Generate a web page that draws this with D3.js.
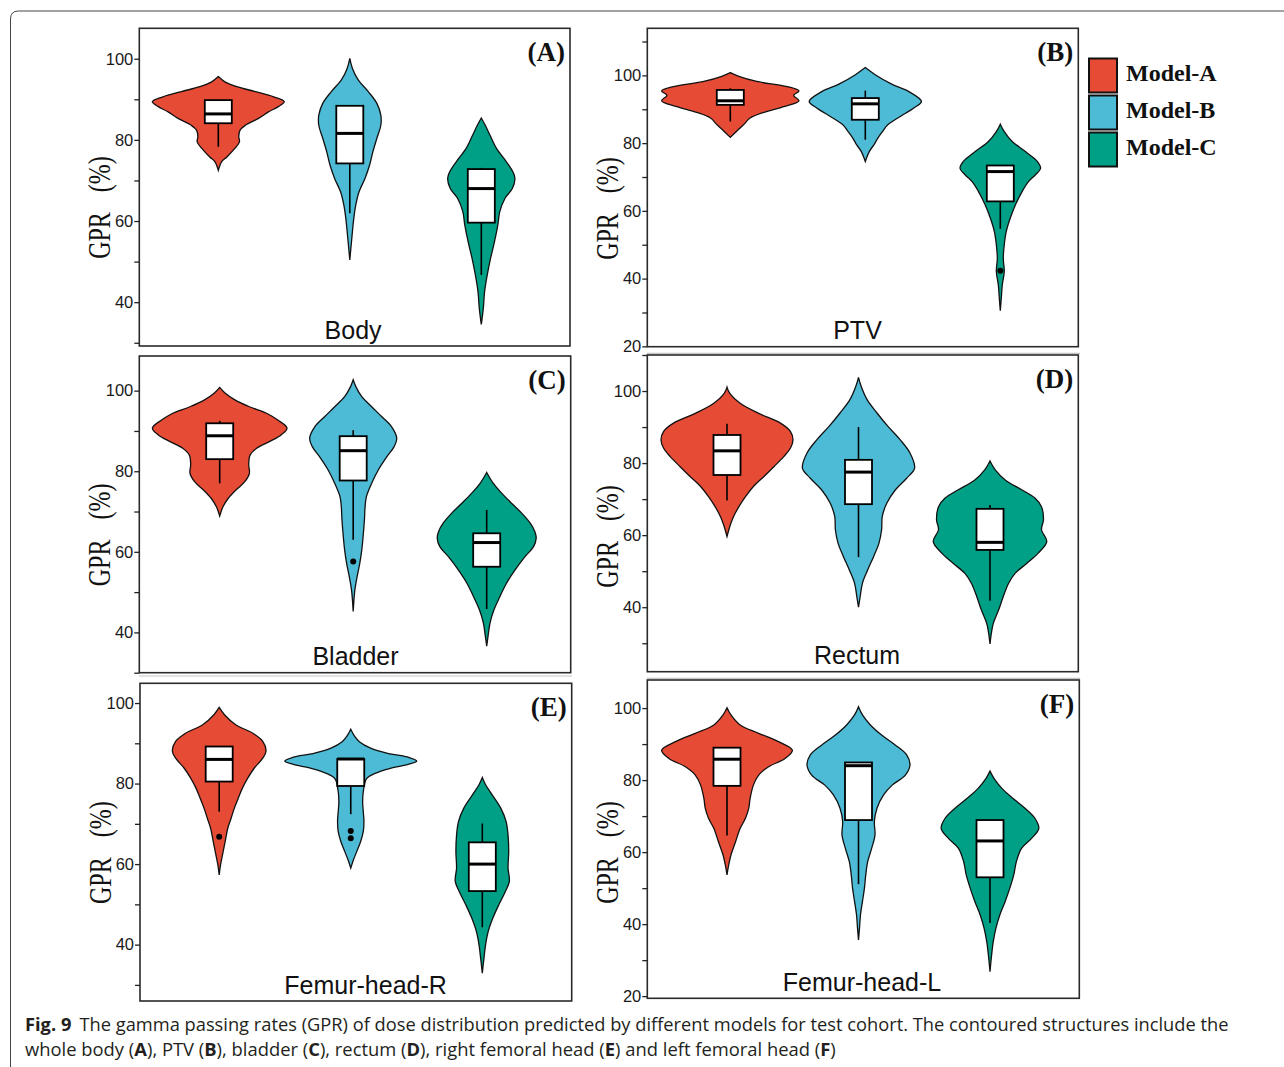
<!DOCTYPE html>
<html><head><meta charset="utf-8">
<script src="https://cdn.jsdelivr.net/npm/d3@7"></script>
<style>body{margin:0;background:#fff}svg{display:block}</style>
</head><body><svg id="chart" width="1284" height="1067"></svg>
<script>
// ---------------- data ----------------
const models = ["Model-A", "Model-B", "Model-C"];
const modelColors = ["#E64B35", "#4DBBD5", "#00A087"];
const structures = ["Body", "PTV", "Bladder", "Rectum", "Femur-head-R", "Femur-head-L"];
const panelTags = ["(A)", "(B)", "(C)", "(D)", "(E)", "(F)"];
const yDomains = [[29.2, 107.5], [19.9, 113.9], [30.0, 108.6], [22.1, 110.0], [26.0, 104.9], [19.4, 107.8]];
const yTickValues = [20, 30, 40, 50, 60, 70, 80, 90, 100, 110];
const yTickLabels = [20, 40, 60, 80, 100];

// box stats per model: [lower whisker, Q1, median, Q3, upper whisker]
const boxBody    = [[78.3, 84.1, 86.4, 89.8, 89.8], [61.9, 74.2, 81.6, 88.4, 88.4], [46.7, 59.6, 68.0, 72.8, 73.1]];
const boxPTV     = [[86.4, 91.3, 92.5, 95.7, 96.2], [81.0, 86.9, 91.6, 93.3, 95.5], [54.7, 62.8, 71.6, 73.4, 73.4]];
const boxBladder = [[77.0, 83.0, 88.8, 91.9, 92.5], [63.0, 77.7, 85.1, 88.7, 90.2], [45.8, 56.3, 62.3, 64.6, 70.4]];
const boxRectum  = [[69.6, 76.7, 83.4, 87.8, 90.9], [53.9, 68.6, 77.5, 80.9, 90.0], [41.8, 55.9, 58.0, 67.3, 68.4]];
const boxFemurR  = [[73.0, 80.5, 86.0, 89.2, 89.2], [72.4, 79.4, 86.1, 86.1, 86.1], [44.3, 53.3, 60.0, 65.4, 70.1]];
const boxFemurL  = [[64.6, 78.4, 85.8, 89.0, 89.0], [51.1, 68.9, 84.0, 84.9, 84.9], [40.3, 53.0, 63.1, 68.9, 68.9]];

const outBody    = [[], [], []];
const outPTV     = [[], [], [42.3]];
const outBladder = [[], [57.6], []];
const outRectum  = [[], [], []];
const outFemurR  = [[66.8], [68.2, 66.4], []];
const outFemurL  = [[], [], []];

// violin outlines: [GPR value, relative half-width]
const violinBody = [
  [[95.6,0],[94.3,.10],[93.1,.28],[91.9,.56],[90.6,.84],[89.4,1.0],[88.2,.91],[86.9,.76],[85.3,.61],[83.6,.41],[82.4,.33],[80.8,.31],[79.5,.32],[77.9,.25],[75.8,.13],[74.6,.05],[72.5,0]],
  [[100.1,0],[97.6,.04],[94.7,.13],[91.9,.28],[89.0,.41],[86.1,.47],[83.6,.47],[80.4,.41],[77.1,.35],[73.8,.30],[70.5,.23],[67.2,.14],[63.9,.09],[60.6,.06],[55.7,.03],[50.4,0]],
  [[85.4,0],[83.6,.06],[81.2,.13],[77.9,.23],[74.6,.38],[72.1,.48],[70.5,.51],[68.0,.47],[65.6,.36],[62.3,.28],[59.0,.25],[54.9,.20],[50.8,.14],[46.7,.09],[42.6,.05],[38.4,.03],[34.5,0]]
];
const violinPTV = [
  [[100.8,0],[99.7,.13],[98.2,.40],[96.7,.86],[95.4,1.04],[94.1,.96],[92.5,1.04],[90.8,.81],[89.1,.51],[87.4,.30],[85.4,.20],[83.6,.10],[81.7,0]],
  [[102.3,0],[100.2,.15],[97.4,.40],[95.2,.66],[92.3,.85],[90.3,.73],[88.8,.61],[86.9,.45],[85.4,.34],[83.4,.26],[81.5,.19],[79.5,.13],[77.5,.06],[74.6,0]],
  [[85.6,0],[83.4,.06],[80.5,.18],[77.5,.38],[74.6,.56],[72.6,.61],[70.6,.53],[68.7,.43],[65.7,.33],[61.8,.23],[57.8,.15],[53.9,.09],[50.0,.06],[46.0,.045],[42.1,.06],[38.1,.03],[34.2,.015],[30.5,0]]
];
const violinBladder = [
  [[100.8,0],[99.4,.08],[97.7,.23],[96.0,.45],[94.4,.71],[92.7,.88],[90.7,1.02],[89.0,.93],[87.4,.76],[85.7,.56],[84.0,.46],[81.6,.44],[79.5,.45],[77.4,.38],[75.4,.25],[73.3,.13],[71.2,.05],[68.9,0]],
  [[102.7,0],[101.0,.04],[98.5,.13],[96.0,.28],[93.6,.43],[91.1,.58],[88.2,.66],[86.1,.62],[83.6,.51],[80.3,.38],[77.0,.28],[73.7,.20],[71.2,.18],[67.9,.17],[63.8,.15],[60.5,.13],[57.2,.10],[53.9,.06],[50.5,.025],[45.2,0]],
  [[79.7,0],[77.0,.10],[74.5,.23],[72.0,.38],[69.6,.53],[67.1,.66],[65.0,.73],[63.4,.75],[61.3,.71],[58.8,.58],[55.5,.43],[52.2,.30],[48.9,.20],[45.6,.11],[42.3,.05],[39.0,.02],[36.6,0]]
];
const violinRectum = [
  [[101.1,0],[99.4,.04],[96.6,.20],[93.8,.48],[91.1,.81],[88.8,.96],[86.5,1.0],[84.1,.96],[81.8,.86],[79.0,.71],[76.3,.56],[73.5,.40],[70.7,.28],[67.9,.18],[65.2,.10],[62.8,.05],[59.6,0]],
  [[103.8,0],[101.3,.04],[97.6,.13],[93.9,.28],[90.1,.45],[86.5,.63],[82.8,.78],[78.6,.85],[75.8,.73],[72.6,.56],[68.9,.43],[65.2,.36],[61.5,.35],[57.8,.31],[54.1,.23],[50.4,.14],[46.7,.06],[42.9,.025],[40.0,0]],
  [[80.6,0],[78.1,.08],[75.3,.23],[72.6,.48],[70.3,.68],[67.9,.78],[64.2,.81],[61.5,.78],[58.2,.86],[55.0,.73],[52.2,.56],[49.4,.38],[46.6,.28],[42.9,.20],[39.2,.13],[35.5,.05],[32.7,.02],[29.8,0]]
];
const violinFemurR = [
  [[98.9,0],[97.1,.08],[94.6,.25],[92.5,.51],[90.5,.66],[88.1,.71],[86.3,.66],[83.8,.53],[81.3,.43],[78.8,.35],[76.4,.29],[73.9,.23],[71.4,.18],[68.9,.13],[65.6,.09],[62.3,.05],[59.8,.02],[57.3,0]],
  [[93.5,0],[91.7,.06],[90.4,.13],[88.8,.30],[87.5,.56],[86.5,.88],[85.6,1.0],[84.8,.88],[83.8,.60],[82.6,.38],[81.2,.24],[78.0,.19],[75.5,.18],[73.0,.19],[70.6,.20],[68.1,.19],[65.6,.15],[63.1,.09],[61.0,.04],[59.0,0]],
  [[81.5,0],[79.7,.05],[77.2,.15],[73.9,.28],[70.6,.36],[67.2,.39],[63.1,.40],[59.0,.39],[55.7,.41],[53.2,.35],[49.9,.25],[46.6,.16],[43.3,.09],[40.0,.05],[36.6,.025],[32.9,0]]
];
const violinFemurL = [
  [[100.1,0],[98.1,.06],[95.3,.20],[93.0,.48],[90.7,.78],[88.3,.99],[86.0,.88],[83.7,.63],[81.4,.48],[78.6,.40],[74.9,.35],[72.2,.33],[69.4,.28],[66.6,.20],[62.9,.13],[59.2,.06],[56.4,.025],[53.7,0]],
  [[100.4,0],[98.1,.06],[95.3,.18],[92.5,.35],[89.7,.56],[87.0,.73],[84.2,.78],[81.4,.71],[78.6,.51],[75.9,.38],[72.2,.28],[68.5,.24],[64.8,.25],[61.1,.20],[57.4,.14],[53.7,.11],[50.0,.09],[46.3,.06],[42.6,.03],[38.9,.015],[35.6,0]],
  [[82.5,0],[80.5,.06],[77.7,.18],[74.9,.35],[72.2,.53],[69.4,.68],[66.6,.74],[63.8,.63],[61.1,.48],[57.4,.40],[53.7,.36],[50.0,.30],[46.3,.23],[42.6,.15],[38.9,.09],[35.2,.05],[31.5,.025],[26.8,0]]
];

const captionBold = "Fig. 9";
const captionLine1 = "The gamma passing rates (GPR) of dose distribution predicted by different models for test cohort. The contoured structures include the";
const captionLine2 = [["whole body (", 0], ["A", 1], ["), PTV (", 0], ["B", 1], ["), bladder (", 0], ["C", 1], ["), rectum (", 0], ["D", 1], ["), right femoral head (", 0], ["E", 1], [") and left femoral head (", 0], ["F", 1], [")", 0]];

// ---------------- layout ----------------
const boxes = [boxBody, boxPTV, boxBladder, boxRectum, boxFemurR, boxFemurL];
const outs = [outBody, outPTV, outBladder, outRectum, outFemurR, outFemurL];
const violins = [violinBody, violinPTV, violinBladder, violinRectum, violinFemurR, violinFemurL];

const panels = [
  {x: 139.3, y: 28.3, w: 430.7, h: 317.7, c: [79, 342], tf: 0.564, ldx: -1.6},
  {x: 647.3, y: 28.3, w: 431.0, h: 318.4, c: [83, 353], tf: 0.566, ldx: -5.3},
  {x: 139.3, y: 356.0, w: 431.4, h: 316.7, c: [80.4, 347.4], tf: 0.565, ldx: 0.5},
  {x: 647.3, y: 355.0, w: 431.0, h: 316.7, c: [79.7, 342.7], tf: 0.573, ldx: -5.8},
  {x: 140.0, y: 683.3, w: 431.7, h: 317.7, c: [79.2, 342.3], tf: 0.533, ldx: 9.7},
  {x: 647.3, y: 680.0, w: 432.0, h: 318.3, c: [79.7, 342.7], tf: 0.542, ldx: -1.3}
];

const svg = d3.select("#chart");
const SANS = "'Liberation Sans', Arial, Helvetica, sans-serif";
const SERIF = "'Liberation Serif', 'Times New Roman', Times, serif";

// outer figure frame
svg.append("path")
  .attr("d", "M10.5,1067 V19 Q10.5,11 18.5,11 H1284")
  .attr("fill", "none").attr("stroke", "#444").attr("stroke-width", 1);

// faint separator lines from the figure assembly
[[647, 1080, 353.3], [647, 1080, 678.3], [139, 572, 676]].forEach(l => {
  svg.append("line").attr("x1", l[0]).attr("x2", l[1]).attr("y1", l[2]).attr("y2", l[2])
    .attr("stroke", "#c4c4c4").attr("stroke-width", 1.2);
});

const widthScale = d3.scaleLinear().domain([0, 1]).range([0, 66]);
const boxW = 27;

panels.forEach((p, i) => {
  const g = svg.append("g");
  const y = d3.scaleLinear().domain(yDomains[i]).range([p.y + p.h, p.y]);
  const x = d3.scalePoint().domain(models).range([p.x + p.c[0], p.x + p.c[1]]);

  // violins
  models.forEach((m, k) => {
    const cx = x(m);
    const area = d3.area().curve(d3.curveCatmullRom.alpha(0.5))
      .y(d => y(d[0]))
      .x0(d => cx - widthScale(d[1]))
      .x1(d => cx + widthScale(d[1]));
    g.append("path").datum(violins[i][k]).attr("d", area)
      .attr("fill", modelColors[k]).attr("stroke", "#111").attr("stroke-width", 1.3);
  });

  // box plots
  models.forEach((m, k) => {
    const cx = x(m);
    const b = boxes[i][k];
    g.append("line").attr("x1", cx).attr("x2", cx).attr("y1", y(b[0])).attr("y2", y(b[1]))
      .attr("stroke", "#000").attr("stroke-width", 1.6);
    if (b[4] > b[3]) {
      g.append("line").attr("x1", cx).attr("x2", cx).attr("y1", y(b[4])).attr("y2", y(b[3]))
        .attr("stroke", "#000").attr("stroke-width", 1.6);
    }
    g.append("rect").attr("x", cx - boxW / 2).attr("width", boxW)
      .attr("y", y(b[3])).attr("height", y(b[1]) - y(b[3]))
      .attr("fill", "#fff").attr("stroke", "#000").attr("stroke-width", 1.8);
    g.append("line").attr("x1", cx - boxW / 2).attr("x2", cx + boxW / 2)
      .attr("y1", y(b[2])).attr("y2", y(b[2]))
      .attr("stroke", "#000").attr("stroke-width", 3);
    outs[i][k].forEach(o => {
      g.append("circle").attr("cx", cx).attr("cy", y(o)).attr("r", 3).attr("fill", "#000");
    });
  });

  // frame
  g.append("rect").attr("x", p.x).attr("y", p.y).attr("width", p.w).attr("height", p.h)
    .attr("fill", "none").attr("stroke", "#2a2a2a").attr("stroke-width", 1.6);

  // y axis
  const [d0, d1] = yDomains[i];
  const ax = d3.axisLeft(y)
    .tickValues(yTickValues.filter(v => v >= d0 && v <= d1))
    .tickSize(5).tickPadding(1)
    .tickFormat(v => yTickLabels.includes(v) ? String(v) : "");
  const axg = g.append("g").attr("transform", `translate(${p.x},0)`).call(ax);
  axg.select(".domain").remove();
  axg.selectAll(".tick line").attr("stroke", "#222").attr("stroke-width", 1.3);
  axg.selectAll(".tick text").attr("font-family", SANS).attr("font-size", 16.5).attr("fill", "#1a1a1a");

  // y title
  const ty = p.y + p.h * p.tf;
  const t = g.append("text")
    .attr("transform", `translate(${p.x - 29},${ty}) rotate(-90) scale(1,1.35)`)
    .attr("text-anchor", "middle").attr("font-family", SERIF).attr("font-size", 24).attr("fill", "#111");
  t.append("tspan").text("GPR");
  t.append("tspan").attr("dx", 20).text("(%)");

  // structure label
  g.append("text").attr("x", p.x + p.w / 2 + p.ldx).attr("y", p.y + p.h - 7.5)
    .attr("text-anchor", "middle").attr("font-family", SANS).attr("font-size", 25).attr("fill", "#111")
    .text(structures[i]);

  // panel tag
  g.append("text").attr("x", p.x + p.w - 5).attr("y", p.y + 33)
    .attr("text-anchor", "end").attr("font-family", SERIF).attr("font-weight", "bold")
    .attr("font-size", 27).attr("fill", "#111").text(panelTags[i]);
});

// legend
const lg = svg.append("g");
models.forEach((m, k) => {
  lg.append("rect").attr("x", 1089).attr("y", 58.5 + k * 37).attr("width", 28).attr("height", 34)
    .attr("fill", modelColors[k]).attr("stroke", "#111").attr("stroke-width", 2);
  lg.append("text").attr("x", 1126).attr("y", 80.5 + k * 37)
    .attr("font-family", SERIF).attr("font-weight", "bold").attr("font-size", 24).attr("fill", "#111")
    .text(m);
});

// caption
const CAP = "'Open Sans', 'Noto Sans', sans-serif";
function fitText(sel, x, y, target) {
  const wdt = sel.node().getBBox().width;
  sel.attr("transform", `translate(${x},${y}) scale(${target / wdt},1)`);
}
const c1 = svg.append("text").attr("x", 0).attr("y", 0)
  .attr("font-family", CAP).attr("font-size", 18).attr("fill", "#231f20");
c1.append("tspan").attr("font-weight", "bold").text(captionBold);
c1.append("tspan").attr("dx", 8).text(captionLine1);
fitText(c1, 25, 1031, 1205);

const c2 = svg.append("text").attr("x", 0).attr("y", 0)
  .attr("font-family", CAP).attr("font-size", 18).attr("fill", "#231f20");
captionLine2.forEach(s => {
  c2.append("tspan").attr("font-weight", s[1] ? "bold" : "normal").text(s[0]);
});
fitText(c2, 25, 1056, 811);
</script>
</body></html>
